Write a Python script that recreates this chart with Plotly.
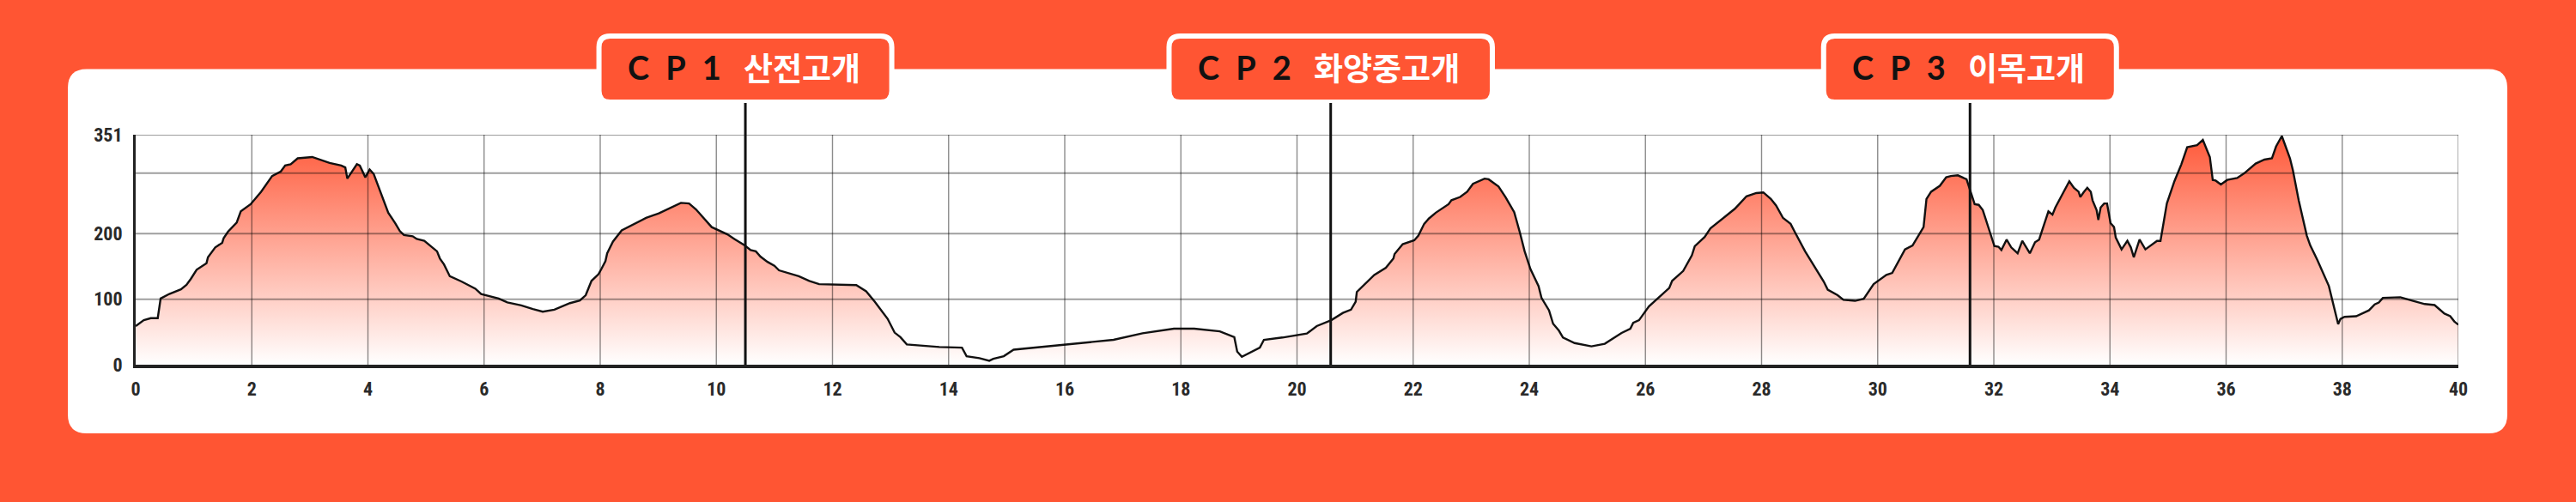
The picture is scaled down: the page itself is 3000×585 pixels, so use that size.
import plotly.graph_objects as go

# ---------------- data ----------------
km = [0.0, 0.14, 0.26, 0.38, 0.43, 0.58, 0.78, 0.875, 0.95, 1.05, 1.22, 1.245, 1.37, 1.49, 1.515, 1.59,
      1.74, 1.81, 1.98, 2.16, 2.35, 2.5, 2.575, 2.67, 2.79, 3.04, 3.34, 3.54, 3.61, 3.645, 3.81, 3.86,
      3.955, 4.03, 4.10, 4.23, 4.35, 4.47, 4.55, 4.62, 4.77, 4.84, 4.97, 5.19, 5.24, 5.31, 5.41, 5.61,
      5.85, 5.95, 6.25, 6.40, 6.64, 6.84, 7.01, 7.21, 7.48, 7.65, 7.75, 7.85, 7.97, 8.02, 8.09, 8.12,
      8.22, 8.37, 8.56, 8.79, 9.01, 9.23, 9.39, 9.53, 9.65, 9.92, 10.19, 10.31, 10.49, 10.59, 10.68,
      10.76, 10.88, 11.0, 11.08, 11.42, 11.60, 11.77, 12.41, 12.58, 12.73, 12.95, 13.07, 13.17, 13.28,
      13.84, 14.23, 14.31, 14.53, 14.70, 14.77, 14.95, 15.12, 16.84, 17.34, 17.88, 18.23, 18.67, 18.77,
      18.92, 18.97, 19.05, 19.36, 19.43, 19.75, 20.17, 20.34, 20.44, 20.59, 20.79, 20.93, 21.01, 21.03,
      21.33, 21.53, 21.66, 21.68, 21.82, 22.02, 22.09, 22.19, 22.27, 22.39, 22.61, 22.66, 22.81, 22.93,
      23.03, 23.23, 23.30, 23.47, 23.59, 23.74, 23.84, 23.92, 24.02, 24.16, 24.21, 24.34, 24.41, 24.51,
      24.58, 24.78, 25.07, 25.30, 25.59, 25.74, 25.79, 25.89, 26.06, 26.41, 26.46, 26.65, 26.80, 26.85,
      27.02, 27.12, 27.54, 27.74, 27.91, 28.03, 28.16, 28.25, 28.37, 28.50, 28.57, 28.75, 29.07, 29.14,
      29.31, 29.41, 29.61, 29.76, 29.93, 30.15, 30.25, 30.47, 30.60, 30.79, 30.84, 30.92, 31.07, 31.18,
      31.26, 31.38, 31.53, 31.61, 31.67, 31.74, 31.81, 31.93, 32.01, 32.08, 32.13, 32.22, 32.30, 32.41,
      32.49, 32.62, 32.71, 32.78, 32.94, 33.01, 33.06, 33.30, 33.38, 33.46, 33.49, 33.55, 33.61, 33.67,
      33.70, 33.77, 33.80, 33.84, 33.90, 33.95, 34.01, 34.07, 34.10, 34.20, 34.30, 34.36, 34.41, 34.51,
      34.61, 34.81, 34.87, 34.98, 35.11, 35.23, 35.33, 35.50, 35.60, 35.72, 35.77, 35.82, 35.91, 36.02,
      36.19, 36.31, 36.51, 36.66, 36.79, 36.86, 36.96, 37.10, 37.15, 37.25, 37.39, 37.45, 37.57, 37.77,
      37.84, 37.93, 37.97, 38.04, 38.24, 38.46, 38.56, 38.63, 38.70, 39.00, 39.22, 39.42, 39.59, 39.76,
      39.86, 39.93, 40.0]

elevation = [59, 68, 71, 71, 101, 108, 115, 122, 131, 145, 155, 164, 179, 186, 193, 203,
             217, 234, 245, 264, 288, 295, 304, 306, 315, 317, 308, 304, 301, 284, 306, 304,
             286, 298, 291, 260, 232, 216, 204, 198, 196, 192, 189, 173, 162, 153, 135, 127,
             116, 108, 101, 95, 90.5, 85, 81, 84, 94, 98, 106, 128, 138, 146, 158, 170,
             188, 205, 214, 224, 231, 240, 247, 246, 237, 210, 199, 192, 182, 175, 173,
             165, 157, 151, 144, 135, 128, 123, 121.5, 112, 96, 70, 49, 42, 31,
             27, 26, 13, 10, 6, 9, 13, 23, 38, 48, 55, 55, 51, 47,
             42, 20, 12, 26, 38, 41.5, 47.6, 59, 63, 68, 79, 84, 96, 111,
             137, 148, 162, 169, 184, 190, 197, 215, 223, 232, 245, 251, 256, 264,
             276, 284, 283, 272, 256, 233, 201, 173, 146, 120, 102, 83, 62.5, 52,
             41.5, 33, 28, 32, 48.5, 55, 64, 68, 89, 117, 128, 143, 167, 181,
             195, 208, 238, 257, 262, 263, 253, 243, 224, 215, 203, 173, 127, 114.5,
             106, 99, 97.5, 100.5, 123, 137, 140, 176, 182, 210, 253, 264, 273, 286,
             288, 289, 283, 262, 245, 244, 236, 203, 181, 180, 175, 191, 179, 170,
             189, 170, 187, 191, 234, 229, 240, 280, 270, 264, 256, 263.5, 270, 264,
             251, 236, 221, 240, 246, 246, 216, 210, 194, 176, 189, 179, 164, 191,
             176, 189, 189, 246, 280, 306, 332, 335, 343, 317, 282, 281, 275, 282,
             285, 292, 307, 313, 315, 333, 349, 315, 297, 251, 197, 182, 160, 120,
             94, 62, 70, 73, 74, 83, 92, 95, 102, 103, 97.5, 92.6, 91, 78,
             74, 66, 61]

cp_km = [10.5, 20.58, 31.59]
cp_code = ["C\u2002P\u20021", "C\u2002P\u20022", "C\u2002P\u20023"]
cp_name = ["산전고개", "화양중고개", "이목고개"]

x_ticks = list(range(0, 41, 2))
y_ticks = [0, 100, 200, 351]
y_extra_grid = [292.5]
y_max = 351

# ---------------- style / layout ----------------
W, H = 3000, 585
L, R, T, B = 158, 137, 157, 160
PH = H - T - B
ORANGE = "#FF5533"
TICK_FONT = dict(family="Roboto Condensed, Liberation Sans Narrow, DejaVu Sans Condensed, Roboto, sans-serif",
                 size=22, color="#2a2a2a", weight="bold")


def rrect_path(x0, y0, x1, y1, r):
    """rounded rect in pixel offsets (y up): (x0, y0) bottom-left, (x1, y1) top-right"""
    left, right, bot, top = x0, x1, y0, y1
    return (f"M {left + r},{bot} L {right - r},{bot} Q {right},{bot} {right},{bot + r} "
            f"L {right},{top - r} Q {right},{top} {right - r},{top} "
            f"L {left + r},{top} Q {left},{top} {left},{top - r} "
            f"L {left},{bot + r} Q {left},{bot} {left + r},{bot} Z")


fig = go.Figure()

fig.add_trace(go.Scatter(
    x=km, y=elevation, mode="lines",
    line=dict(color="#111111", width=2.4),
    fill="tozeroy",
    fillgradient=dict(type="vertical",
                      colorscale=[[0, "rgb(255,255,255)"], [1, "rgb(255,88,56)"]],
                      start=0, stop=y_max),
    hoverinfo="skip", showlegend=False,
))

shapes = []
# white card (pixel offsets from plot bottom-left, y up)
card = rrect_path(79 - L, 425 - 505, 2920 - L, 425 - 80.5, 22)
shapes.append(dict(type="path", path=card, xref="paper", yref="paper", xanchor=0, yanchor=0,
                   xsizemode="pixel", ysizemode="pixel", fillcolor="white",
                   line=dict(width=0), layer="below"))

# grid lines (semi-transparent, drawn above the fill)
for yv in [100, 200] + y_extra_grid + [y_max]:
    shapes.append(dict(type="line", xref="x", yref="y", x0=0, x1=40, y0=yv, y1=yv,
                       line=dict(color="rgba(0,0,0,0.38)", width=2), layer="above"))
for xv in x_ticks[1:]:
    shapes.append(dict(type="line", xref="x", yref="y", x0=xv, x1=xv, y0=0, y1=y_max,
                       line=dict(color="rgba(0,0,0,0.45)", width=1.4), layer="above"))

annotations = []
label_y = (425 - 78) / PH
for k, code, name in zip(cp_km, cp_code, cp_name):
    n = len(name)
    w = 112 + 22 + 35.5 * n
    half = (w + 71) / 2 - 3
    box = rrect_path(-half, 425 - 119, half, 425 - 42, 13)
    shapes.append(dict(type="path", path=box, xref="x", yref="paper", xanchor=k, yanchor=0,
                       xsizemode="pixel", ysizemode="pixel", fillcolor=ORANGE,
                       line=dict(color="white", width=6), layer="above"))
    shapes.append(dict(type="line", xref="x", yref="paper", x0=k, x1=k, y0=0,
                       y1=(425 - 120) / PH, line=dict(color="#111111", width=3), layer="above"))
    annotations.append(dict(text=f"<b>{code}</b>", xref="x", yref="paper", x=k, y=label_y,
                            xshift=-w / 2 + 112, xanchor="right", yanchor="middle", showarrow=False,
                            font=dict(family="Lato, Montserrat, Inter, sans-serif", size=38,
                                      color="#111111", weight=900)))
    annotations.append(dict(text=f"<b>{name}</b>", xref="x", yref="paper", x=k, y=label_y,
                            xshift=-w / 2 + 134, xanchor="left", yanchor="middle", showarrow=False,
                            font=dict(family="Noto Sans CJK KR", size=37, color="white")))

fig.update_layout(
    width=W, height=H,
    margin=dict(l=L, r=R, t=T, b=B, autoexpand=False),
    paper_bgcolor=ORANGE, plot_bgcolor="white",
    shapes=shapes, annotations=annotations,
    xaxis=dict(range=[0, 40], tickvals=x_ticks, showgrid=False, zeroline=False,
               showline=True, linecolor="#222222", linewidth=4, ticks="",
               tickfont=TICK_FONT, ticklabelstandoff=6, fixedrange=True),
    yaxis=dict(range=[0, y_max], tickvals=y_ticks, showgrid=False, zeroline=False,
               showline=True, linecolor="#222222", linewidth=3, ticks="",
               tickfont=TICK_FONT, ticklabelstandoff=8, fixedrange=True),
)

fig.write_html("out.html")
